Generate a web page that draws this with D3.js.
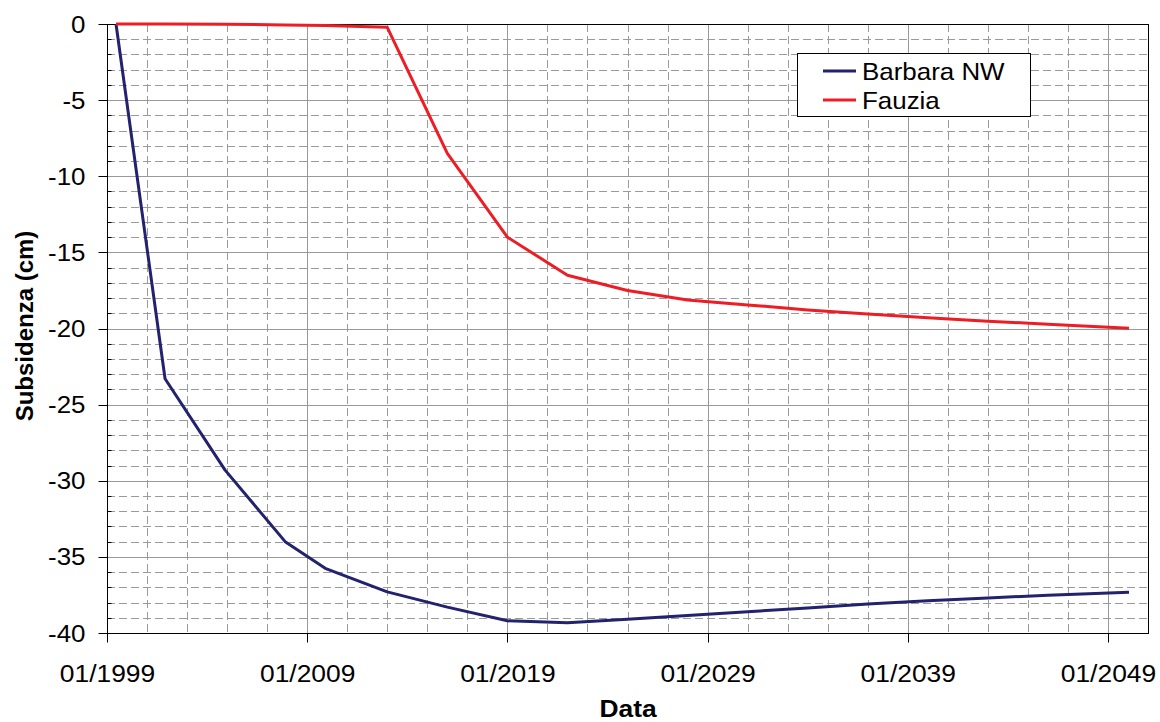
<!DOCTYPE html>
<html lang="it">
<head>
<meta charset="UTF-8">
<script src="https://cdn.jsdelivr.net/npm/d3@7"></script>
<style>
  body { margin: 0; background: #fff; font-family: "Liberation Sans", Arial, sans-serif; }
  svg { display: block; }
</style>
</head>
<body>
<svg id="chart" width="1160" height="722"></svg>
<script>
// ---- data (decimal years, cm) ----
const barbaraYears = [1999.45, 2001.9, 2004.9, 2007.9, 2009.9, 2013, 2016, 2019, 2022, 2025, 2028, 2031, 2034, 2037, 2040, 2043, 2046, 2050.05];
const barbaraValues = [0, -23.3, -29.3, -34.0, -35.75, -37.3, -38.3, -39.2, -39.32, -39.1, -38.85, -38.6, -38.35, -38.1, -37.88, -37.7, -37.52, -37.33];

const fauziaYears = [1999.45, 2001.9, 2004.9, 2007.9, 2009.9, 2013, 2016, 2019, 2022, 2025, 2028, 2031, 2034, 2037, 2040, 2043, 2046, 2050.05];
const fauziaValues = [0, 0, -0.02, -0.06, -0.1, -0.22, -8.5, -14.0, -16.5, -17.5, -18.13, -18.45, -18.78, -19.05, -19.3, -19.52, -19.72, -19.99];

const xTickYears = [1999, 2009, 2019, 2029, 2039, 2049];
const xTickLabels = ["01/1999", "01/2009", "01/2019", "01/2029", "01/2039", "01/2049"];
const yTicks = [0, -5, -10, -15, -20, -25, -30, -35, -40];

const seriesNames = ["Barbara NW", "Fauzia"];
const seriesColors = ["#22226e", "#ee1d25"];

// ---- layout ----
const plot = { left: 107, right: 1148, top: 24, bottom: 633 };
const svg = d3.select("#chart");

const x = d3.scaleLinear().domain([1999, 2051]).range([plot.left, plot.right]);
const y = d3.scaleLinear().domain([0, -40]).range([plot.top, plot.bottom]);

// ---- grid ----
const grid = svg.append("g");
// minor horizontal (every 1 cm)
grid.selectAll("line.hmin")
  .data(d3.range(-1, -40, -1).filter(v => v % 5 !== 0))
  .join("line")
  .attr("x1", plot.left).attr("x2", plot.right)
  .attr("y1", d => Math.round(y(d)) + 0.5).attr("y2", d => Math.round(y(d)) + 0.5)
  .attr("stroke", "#9a9a9a").attr("stroke-dasharray", "8,4");
// minor vertical (every 2 years)
grid.selectAll("line.vmin")
  .data(d3.range(2001, 2051, 2).filter(v => (v - 1999) % 10 !== 0))
  .join("line")
  .attr("x1", d => Math.round(x(d)) + 0.5).attr("x2", d => Math.round(x(d)) + 0.5)
  .attr("y1", plot.top).attr("y2", plot.bottom)
  .attr("stroke", "#9a9a9a").attr("stroke-dasharray", "8,4");
// major horizontal
grid.selectAll("line.hmaj")
  .data(yTicks.filter(v => v !== 0 && v !== -40))
  .join("line")
  .attr("x1", plot.left).attr("x2", plot.right)
  .attr("y1", d => Math.round(y(d)) + 0.5).attr("y2", d => Math.round(y(d)) + 0.5)
  .attr("stroke", "#999");
// major vertical
grid.selectAll("line.vmaj")
  .data(xTickYears.slice(1))
  .join("line")
  .attr("x1", d => Math.round(x(d)) + 0.5).attr("x2", d => Math.round(x(d)) + 0.5)
  .attr("y1", plot.top).attr("y2", plot.bottom)
  .attr("stroke", "#999");

// plot border
svg.append("rect")
  .attr("x", plot.left + 0.5).attr("y", plot.top + 0.5)
  .attr("width", plot.right - plot.left).attr("height", plot.bottom - plot.top)
  .attr("fill", "none").attr("stroke", "#000");

// ---- axes ----
const yAxis = svg.append("g").attr("transform", `translate(${plot.left + 0.5},0)`);
yAxis.selectAll("line.tk")
  .data(yTicks)
  .join("line")
  .attr("x1", -9).attr("x2", 0)
  .attr("y1", d => Math.round(y(d)) + 0.5).attr("y2", d => Math.round(y(d)) + 0.5)
  .attr("stroke", "#000");
yAxis.selectAll("line.mtk")
  .data(d3.range(-1, -40, -1).filter(v => v % 5 !== 0))
  .join("line")
  .attr("x1", 0).attr("x2", 4)
  .attr("y1", d => Math.round(y(d)) + 0.5).attr("y2", d => Math.round(y(d)) + 0.5)
  .attr("stroke", "#000");
yAxis.selectAll("text")
  .data(yTicks)
  .join("text")
  .attr("transform", d => `translate(-22,${y(d) + 8.5}) scale(1.08,1)`)
  .attr("text-anchor", "end")
  .attr("font-size", 24)
  .text(d => d3.format("d")(d).replace("−", "-"));

const xAxis = svg.append("g").attr("transform", `translate(0,${plot.bottom + 0.5})`);
xAxis.selectAll("line")
  .data(xTickYears)
  .join("line")
  .attr("x1", d => Math.round(x(d)) + 0.5).attr("x2", d => Math.round(x(d)) + 0.5)
  .attr("y1", 0).attr("y2", 9)
  .attr("stroke", "#000");
xAxis.selectAll("text")
  .data(xTickYears)
  .join("text")
  .attr("transform", (d, i) => `translate(${x(d) + 0.5},48) scale(1.1,1)`)
  .attr("text-anchor", "middle")
  .attr("font-size", 24)
  .text((d, i) => xTickLabels[i]);

// axis titles
svg.append("text")
  .attr("transform", `translate(628,717) scale(1.1,1)`)
  .attr("text-anchor", "middle")
  .attr("font-size", 24).attr("font-weight", "bold")
  .text("Data");
svg.append("text")
  .attr("transform", `translate(33,326) rotate(-90)`)
  .attr("text-anchor", "middle")
  .attr("font-size", 24).attr("font-weight", "bold")
  .text("Subsidenza (cm)");

// ---- lines ----
const line = d3.line().x(d => x(d[0])).y(d => y(d[1]));
const series = [
  d3.zip(barbaraYears, barbaraValues),
  d3.zip(fauziaYears, fauziaValues)
];
svg.append("g").selectAll("path")
  .data(series)
  .join("path")
  .attr("d", line)
  .attr("fill", "none")
  .attr("stroke", (d, i) => seriesColors[i])
  .attr("stroke-width", 3)
  .attr("stroke-linejoin", "round");

// ---- legend ----
const legend = svg.append("g").attr("transform", "translate(797,53)");
legend.append("rect")
  .attr("x", 0.5).attr("y", 0.5).attr("width", 233).attr("height", 63)
  .attr("fill", "#fff").attr("stroke", "#000");
seriesNames.forEach((name, i) => {
  const ly = 18 + i * 29;
  legend.append("line")
    .attr("x1", 26).attr("x2", 59).attr("y1", ly).attr("y2", ly)
    .attr("stroke", seriesColors[i]).attr("stroke-width", 3);
  legend.append("text")
    .attr("transform", `translate(65,${ly + 8.5}) scale(1.08,1)`)
    .attr("font-size", 24)
    .text(name);
});
</script>
</body>
</html>
